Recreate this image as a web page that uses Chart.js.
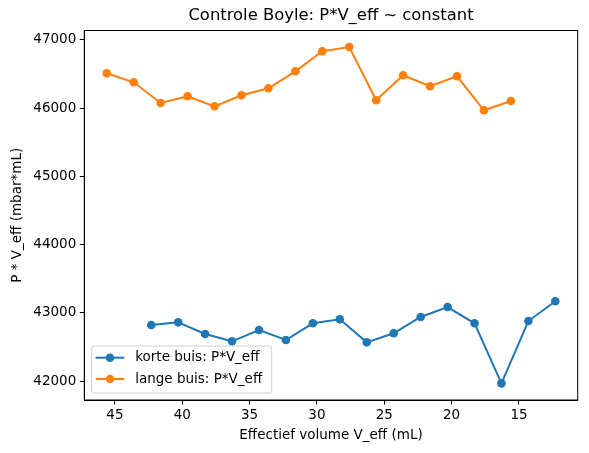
<!DOCTYPE html>
<html>
<head>
<meta charset="utf-8">
<script src="https://cdn.jsdelivr.net/npm/chart.js@4.4.1/dist/chart.umd.min.js"></script>
<style>
  html, body { margin: 0; padding: 0; background: #fff; }
  #wrap { width: 589px; height: 453px; }
</style>
</head>
<body>
<div id="wrap"><canvas id="myChart"></canvas></div>
<script>
// effectief volume (mL) per meetpunt
const volumeKort = [42.3, 40.3, 38.3, 36.3, 34.3, 32.3, 30.3, 28.3, 26.3, 24.3, 22.3, 20.3, 18.3, 16.3, 14.3, 12.3];
const volumeLang = [45.6, 43.6, 41.6, 39.6, 37.6, 35.6, 33.6, 31.6, 29.6, 27.6, 25.6, 23.6, 21.6, 19.6, 17.6, 15.6];

// P*V_eff (mbar*mL)
const pvKort = [42821, 42860, 42689, 42582, 42747, 42601, 42846, 42904, 42567, 42699, 42938, 43084, 42846, 41966, 42879, 43168];
const pvLang = [46509, 46377, 46074, 46172, 46025, 46187, 46289, 46538, 46831, 46894, 46113, 46480, 46319, 46465, 45967, 46103];

const xTicks = [45, 40, 35, 30, 25, 20, 15];
const yTicks = [42000, 43000, 44000, 45000, 46000, 47000];

const seriesLabels = ['korte buis: P*V_eff', 'lange buis: P*V_eff'];
const titleText = 'Controle Boyle: P*V_eff ~ constant';
const blue = '#1f77b4';
const orange = '#ff7f0e';

const font = 'DejaVu Sans';
const tickSize = 13.5;

function toPoints(xs, ys) {
  return xs.map((x, i) => ({ x: x, y: ys[i] }));
}

// kader rond het plotgebied + titel gecentreerd boven de assen (matplotlib-stijl)
const frame = {
  id: 'frame',
  afterDraw(chart) {
    const a = chart.chartArea;
    const ctx = chart.ctx;
    ctx.save();
    ctx.strokeStyle = '#000';
    ctx.lineWidth = 1;
    ctx.strokeRect(a.left, a.top, a.right - a.left, a.bottom - a.top);
    ctx.fillStyle = '#000';
    ctx.font = '16.4px "' + font + '"';
    ctx.textAlign = 'center';
    ctx.textBaseline = 'middle';
    ctx.fillText(titleText, (a.left + a.right) / 2, 16);
    ctx.restore();
  }
};

// legenda linksonder in het plotgebied
const boxLegend = {
  id: 'boxLegend',
  afterDraw(chart) {
    const a = chart.chartArea;
    const ctx = chart.ctx;
    const x = a.left + 7.4, w = 180, h = 47;
    const y = a.bottom - 7 - h;
    ctx.save();
    ctx.fillStyle = 'rgba(255,255,255,0.8)';
    ctx.strokeStyle = '#d0d0d0';
    ctx.lineWidth = 1;
    ctx.beginPath();
    ctx.roundRect(x, y, w, h, 3);
    ctx.fill();
    ctx.stroke();
    chart.data.datasets.forEach((ds, i) => {
      const cy = y + 11.7 + i * 21.3;
      ctx.strokeStyle = ds.borderColor;
      ctx.lineWidth = 2;
      ctx.beginPath();
      ctx.moveTo(x + 4, cy);
      ctx.lineTo(x + 32.6, cy);
      ctx.stroke();
      ctx.fillStyle = ds.backgroundColor;
      ctx.beginPath();
      ctx.arc(x + 18.3, cy, 4.3, 0, Math.PI * 2);
      ctx.fill();
      ctx.fillStyle = '#000';
      ctx.font = tickSize + 'px "' + font + '"';
      ctx.textAlign = 'left';
      ctx.textBaseline = 'middle';
      ctx.fillText(ds.label, x + 43.5, cy);
    });
    ctx.restore();
  }
};

new Chart(document.getElementById('myChart'), {
  type: 'line',
  data: {
    datasets: [{
      label: seriesLabels[0],
      data: toPoints(volumeKort, pvKort),
      borderColor: blue,
      backgroundColor: blue,
      borderWidth: 2,
      pointRadius: 4.3,
      pointBorderWidth: 0,
      tension: 0
    }, {
      label: seriesLabels[1],
      data: toPoints(volumeLang, pvLang),
      borderColor: orange,
      backgroundColor: orange,
      borderWidth: 2,
      pointRadius: 4.3,
      pointBorderWidth: 0,
      tension: 0
    }]
  },
  options: {
    responsive: true,
    maintainAspectRatio: false,
    animation: false,
    layout: { padding: { top: 30.5, left: 0, right: 11.3, bottom: 0 } },
    plugins: {
      legend: { display: false },
      tooltip: { enabled: false },
      title: { display: false }
    },
    scales: {
      x: {
        type: 'linear',
        reverse: true,
        min: 10.64,
        max: 47.27,
        afterFit(scale) { scale.height = 53; },
        afterBuildTicks(scale) { scale.ticks = xTicks.map(v => ({ value: v })); },
        grid: { display: true, drawOnChartArea: false, drawTicks: true, tickLength: 4.5, color: '#000' },
        border: { display: true, color: '#000' },
        ticks: { color: '#000', padding: 3, maxRotation: 0, font: { family: font, size: tickSize } },
        title: {
          display: true,
          text: 'Effectief volume V_eff (mL)',
          color: '#000',
          padding: { top: 0, bottom: 9 },
          font: { family: font, size: tickSize }
        }
      },
      y: {
        type: 'linear',
        min: 41722,
        max: 47136,
        afterFit(scale) { scale.width = 84.3; },
        afterBuildTicks(scale) { scale.ticks = yTicks.map(v => ({ value: v })); },
        grid: { display: true, drawOnChartArea: false, drawTicks: true, tickLength: 4.5, color: '#000' },
        border: { display: true, color: '#000' },
        ticks: { color: '#000', padding: 3.5, font: { family: font, size: tickSize }, callback: v => String(v) },
        title: {
          display: true,
          text: 'P * V_eff (mbar*mL)',
          color: '#000',
          padding: { top: 9, bottom: 0 },
          font: { family: font, size: tickSize }
        }
      }
    }
  },
  plugins: [frame, boxLegend]
});
</script>
</body>
</html>
